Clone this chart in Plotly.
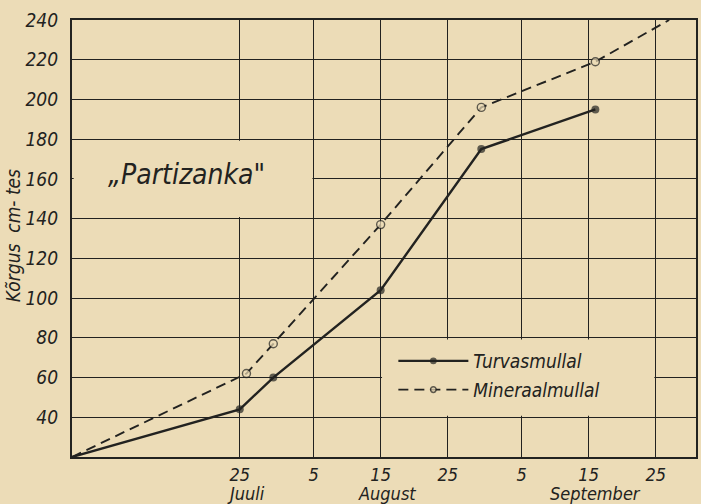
import plotly.graph_objects as go

# ---- data ----
turvas_dates = ["1950-06-30", "1950-07-25", "1950-07-30", "1950-08-15", "1950-08-30", "1950-09-16"]
turvas_vals = [20, 44, 60, 104, 175, 195]

mineraal_dates = ["1950-06-30", "1950-07-26", "1950-07-30", "1950-08-15", "1950-08-30", "1950-09-16", "1950-09-27"]
mineraal_vals = [20, 62, 77, 137, 196, 219, 240]
mineraal_marked = [False, True, True, True, True, True, False]

x_tick_dates = ["1950-07-25", "1950-08-05", "1950-08-15", "1950-08-25", "1950-09-05", "1950-09-15", "1950-09-25"]
x_tick_text = ["25", "5", "15", "25", "5", "15", "25"]
month_dates = ["1950-07-26", "1950-08-16", "1950-09-16"]
month_names = ["Juuli", "August", "September"]
y_tick_vals = [40, 60, 80, 100, 120, 140, 160, 180, 200, 220, 240]

PAPER = "#ECDCB7"
INK = "#222220"
FONT = "Liberation Sans Narrow, DejaVu Sans Condensed, sans-serif"

fig = go.Figure()

fig.add_trace(go.Scatter(
    x=turvas_dates, y=turvas_vals, mode="lines+markers", name="Turvasmullal",
    legendgroup="a",
    line=dict(color=INK, width=2.4),
    marker=dict(size=[0, 8, 8, 8, 8, 8], color=INK, line=dict(width=0)),
))
fig.add_trace(go.Scatter(
    x=mineraal_dates, y=mineraal_vals, mode="lines+markers", name="Mineraalmullal",
    legendgroup="b",
    line=dict(color=INK, width=1.9, dash="10px,6px"),
    marker=dict(size=[8 if m else 0 for m in mineraal_marked], color=PAPER,
                line=dict(color=INK, width=1.4)),
))

# blank areas where the grid is interrupted (title and legend)
fig.add_shape(type="rect", layer="between", xref="x", yref="y",
              x0="1950-06-30 06:00", x1="1950-08-04 20:00", y0=140.8, y1=179.2,
              fillcolor=PAPER, line=dict(width=0))
fig.add_shape(type="rect", layer="between", xref="x", yref="y",
              x0="1950-08-15 05:00", x1="1950-09-24 19:00", y0=40.8, y1=79.2,
              fillcolor=PAPER, line=dict(width=0))

fig.add_annotation(x="1950-07-17", y=162, xref="x", yref="y",
                   text="„Partizanka\"", showarrow=False,
                   font=dict(size=28, color=INK, family=FONT, style="italic"))
fig.add_annotation(x=-0.094, y=0.506, xref="paper", yref="paper",
                   xanchor="center", yanchor="middle",
                   text="Kõrgus\u00a0\u00a0cm-\u00a0tes", showarrow=False, textangle=-90,
                   font=dict(size=19, color=INK, family=FONT, style="italic"))
for md, mn in zip(month_dates, month_names):
    fig.add_annotation(x=md, y=-0.083, xref="x", yref="paper",
                       xanchor="center", yanchor="middle",
                       text=mn, showarrow=False,
                       font=dict(size=18, color=INK, family=FONT, style="italic"))

fig.update_layout(
    width=701, height=504,
    margin=dict(l=72, r=3, t=20, b=47),
    paper_bgcolor=PAPER, plot_bgcolor=PAPER,
    font=dict(family=FONT, color=INK, style="italic"),
    showlegend=True,
    legend=dict(x=0.515, y=0.263, xanchor="left", yanchor="top",
                bgcolor="rgba(0,0,0,0)", font=dict(size=19, color=INK, family=FONT, style="italic"),
                traceorder="grouped", tracegroupgap=1, itemwidth=70),
    xaxis=dict(type="date", range=["1950-06-30", "1950-10-01"],
               tickvals=x_tick_dates, ticktext=x_tick_text,
               tickfont=dict(size=18, color=INK),
               showgrid=True, gridcolor=INK, gridwidth=1.4,
               showline=True, linecolor=INK, linewidth=2.2, mirror=True,
               ticks="", zeroline=False),
    yaxis=dict(range=[20, 240], tickvals=y_tick_vals,
               tickfont=dict(size=19, color=INK),
               showgrid=True, gridcolor=INK, gridwidth=1.4,
               showline=True, linecolor=INK, linewidth=2.2, mirror=True,
               ticks="", ticklabelstandoff=8, zeroline=False),
)

fig.write_html("out.html", config={"displayModeBar": False},
               post_script="document.body.style.margin='0';document.body.style.overflow='hidden';")
